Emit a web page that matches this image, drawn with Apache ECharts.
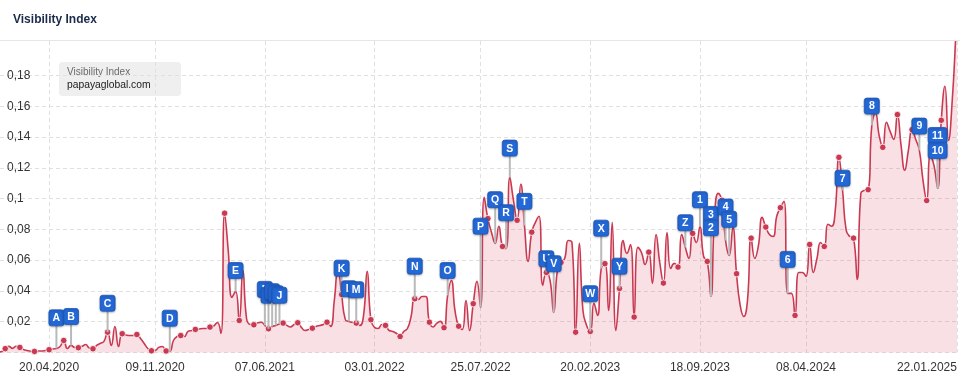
<!DOCTYPE html>
<html><head><meta charset="utf-8">
<script src="https://cdn.jsdelivr.net/npm/echarts@6/dist/echarts.min.js"></script>
<style>html,body{margin:0;padding:0;background:#fff}#c{width:960px;height:376px}</style>
</head><body><div id="c"></div>
<script>
// ---- data ----
const firstWeek = '2020-01-13';   // weekly points (Mondays) from here
const lastDate = '2025-01-22';    // final daily point
const axisStart = '2020-01-17';
const axisEnd = '2025-01-24';
const values = [
0.0003,0.0006,0.0025,0.0040,0.0027,0.0041,0.0033,0.0020,0.0013,0.0008,
0.0007,0.0010,0.0010,0.0013,0.0018,0.0023,0.0026,0.0039,0.0078,0.0026,
0.0046,0.0033,0.0031,0.0040,0.0052,0.0029,0.0024,0.0046,0.0059,0.0072,
0.0132,0.0046,0.0169,0.0039,0.0122,0.0114,0.0110,0.0110,0.0117,0.0091,
0.0059,0.0026,0.0011,0.0013,0.0033,0.0039,0.0010,0.0008,0.0078,0.0104,
0.0110,0.0104,0.0137,0.0143,0.0150,0.0153,0.0156,0.0156,0.0165,0.0172,
0.0195,0.0124,0.0905,0.0660,0.0358,0.0397,0.0208,0.0533,0.0221,0.0182,
0.0180,0.0192,0.0197,0.0176,0.0154,0.0169,0.0176,0.0185,0.0191,0.0176,
0.0166,0.0182,0.0193,0.0163,0.0143,0.0150,0.0158,0.0169,0.0176,0.0182,
0.0197,0.0169,0.0338,0.0546,0.0377,0.0215,0.0202,0.0195,0.0191,0.0176,
0.0241,0.0527,0.0213,0.0163,0.0156,0.0182,0.0176,0.0143,0.0137,0.0124,
0.0104,0.0137,0.0156,0.0234,0.0349,0.0345,0.0364,0.0364,0.0197,0.0166,
0.0189,0.0202,0.0161,0.0371,0.0468,0.0273,0.0171,0.0150,0.0338,0.0143,
0.0317,0.0462,0.0293,0.1008,0.0870,0.0780,0.0709,0.0820,0.0689,0.0676,
0.1138,0.0989,0.0859,0.1093,0.0826,0.0592,0.0782,0.0846,0.0885,0.0436,
0.0520,0.0470,0.0260,0.0530,0.0585,0.0611,0.0728,0.0715,0.0132,0.0709,
0.0273,0.0176,0.0137,0.0319,0.0241,0.0546,0.0577,0.0273,0.0846,0.0143,
0.0416,0.0728,0.0644,0.0702,0.0230,0.0683,0.0650,0.0572,0.0652,0.0449,
0.0767,0.0585,0.0451,0.0780,0.0546,0.0579,0.0555,0.0767,0.0683,0.0611,
0.0774,0.0715,0.0819,0.0624,0.0592,0.0364,0.0891,0.1034,0.0989,0.0728,
0.0631,0.0813,0.0512,0.0306,0.0234,0.0338,0.0743,0.0611,0.0696,0.0878,
0.0815,0.0767,0.0754,0.0885,0.0941,0.0982,0.0384,0.0384,0.0241,0.0520,
0.0520,0.0494,0.0702,0.0520,0.0611,0.0715,0.0689,0.0833,0.0820,0.0923,
0.1268,0.1054,0.0793,0.0754,0.0743,0.0475,0.1034,0.1054,0.1058,0.1476,
0.1556,0.1411,0.1333,0.1496,0.1437,0.1385,0.1546,0.1346,0.1184,0.1314,
0.1448,0.1385,0.1314,0.1119,0.0987,0.1281,0.1216,0.1067,0.1509,0.1730,
0.1379,0.1639,0.2080,0.2250
];
const tickLabels = ['20.04.2020','09.11.2020','07.06.2021','03.01.2022','25.07.2022','20.02.2023','18.09.2023','08.04.2024','22.01.2025'];
const yGridValues = [0,0.02,0.04,0.06,0.08,0.1,0.12,0.14,0.16,0.18];
const yLabelValues = [0.02,0.04,0.06,0.08,0.1,0.12,0.14,0.16,0.18];
const yMax = 0.2024;
const flagLabels = ['A','B','C','D','E','F','G','H','I','J','K','L','M','N','O','P','Q','R','S','T','U','V','W','X','Y','Z','1','3','2','4','5','6','7','8','9','11','10'];
const flagWeeks  = [16,20,30,47,65,73,74,75,76,77,94,96,98,114,123,132,136,139,140,144,150,152,162,165,170,188,192,195,195,199,200,216,231,239,252,257,257];
const flagLevels = [0.0225,0.0234,0.0320,0.0223,0.0533,0.0410,0.0372,0.0395,0.0382,0.0372,0.0548,0.0414,0.0408,0.0561,0.0533,0.0821,0.0993,0.0908,0.1328,0.0982,0.0609,0.0577,0.0382,0.0808,0.0561,0.0843,0.0993,0.0897,0.0811,0.0945,0.0865,0.0605,0.1133,0.1601,0.1471,0.1410,0.1313];

// ---- build ----
const DAY = 86400000;
function iso(s){const p=s.split('-').map(Number);return Date.UTC(p[0],p[1]-1,p[2]);}
function dmy(s){const p=s.split('.').map(Number);return Date.UTC(p[2],p[1]-1,p[0]);}
const t0 = iso(firstWeek);
const dates = values.map((v,i)=> i < values.length-1 ? t0 + i*7*DAY : iso(lastDate));
const lineData = dates.map((t,i)=>[t, values[i]]);
const flagData = flagWeeks.map((k,i)=>[dates[k], flagLevels[i], values[k]]);
const xTicks = tickLabels.map(dmy);
function fmtDate(v){const d=new Date(v);const p=n=>String(n).padStart(2,'0');return p(d.getUTCDate())+'.'+p(d.getUTCMonth()+1)+'.'+d.getUTCFullYear();}

const chart = echarts.init(document.getElementById('c'), null, {renderer:'canvas'});
chart.setOption({
  animation:false,
  backgroundColor:'#fff',
  title:{text:'Visibility Index', left:8, top:9, textStyle:{fontFamily:'Liberation Sans, Arial, sans-serif', fontSize:12, fontWeight:'bold', color:'#1a2a4a'}},
  graphic:[
    {type:'line', shape:{x1:0,y1:40.5,x2:960,y2:40.5}, style:{stroke:'#e6e6e6', lineWidth:1}, z:10},
    {type:'group', left:59, top:62, z:100, children:[
      {type:'rect', shape:{x:0,y:0,width:122,height:34,r:4}, style:{fill:'#efefef'}},
      {type:'text', x:8, y:10, style:{text:'Visibility Index', fill:'#6a6a6a', font:'10px "Liberation Sans", Arial, sans-serif', verticalAlign:'middle'}},
      {type:'text', x:8, y:23.5, style:{text:'papayaglobal.com', fill:'#1a1a1a', font:'10.3px "Liberation Sans", Arial, sans-serif', verticalAlign:'middle'}}
    ]}
  ],
  grid:{left:0, right:2, top:41, bottom:23.5, containLabel:false, outerBoundsMode:'none'},
  xAxis:{
    type:'value', min:iso(axisStart), max:iso(axisEnd),
    axisLine:{show:false},
    axisTick:{show:false, customValues:xTicks},
    axisLabel:{customValues:xTicks, formatter:fmtDate, color:'#333', fontSize:12, fontFamily:'Liberation Sans, Arial, sans-serif', margin:9, alignMaxLabel:'right', showMaxLabel:true, showMinLabel:true, hideOverlap:false},
    splitLine:{show:true, lineStyle:{color:'#e0e0e0', type:[4,3], width:1}}
  },
  yAxis:{
    type:'value', min:0, max:yMax,
    axisLine:{show:false},
    axisTick:{show:false, customValues:yGridValues},
    axisLabel:{inside:true, margin:7, customValues:yLabelValues, color:'#333', fontSize:12, fontFamily:'Liberation Sans, Arial, sans-serif', formatter:v=>String(v).replace('.',',')},
    splitLine:{show:true, lineStyle:{color:'#e0e0e0', type:[4,3], width:1}}
  },
  series:[
    {
      type:'line', data:lineData, smooth:0.5, clip:true,
      showSymbol:true, showAllSymbol:true, symbol:'circle',
      symbolSize:(v,p)=> (p.dataIndex % 4 === 2 && p.dataIndex < values.length-1) ? 6.5 : 0,
      lineStyle:{color:'#c93a52', width:1.6},
      itemStyle:{color:'#c93a52', borderColor:'#fff', borderWidth:0.8},
      areaStyle:{color:'rgba(214,70,96,0.24)'},
      z:2
    },
    {
      type:'custom', data:flagData, z:5, clip:false,
      renderItem:(params, api)=>{
        const t = api.value(0);
        const top = api.coord([t, api.value(1)]);
        const bot = api.coord([t, api.value(2)]);
        const lab = flagLabels[params.dataIndex];
        const w = lab.length > 1 ? 19 : 15;
        return {type:'group', children:[
          {type:'line', shape:{x1:top[0], y1:top[1], x2:bot[0], y2:bot[1]}, style:{stroke:'#b9b9b9', lineWidth:2}},
          {type:'rect', shape:{x:top[0]-w/2, y:top[1]-8, width:w, height:16, r:2.5}, style:{fill:'#2468d6', stroke:'#1d58b8', lineWidth:0.8, shadowBlur:2, shadowColor:'rgba(0,0,0,0.25)', shadowOffsetY:1}},
          {type:'text', x:top[0], y:top[1]+0.5, style:{text:lab, fill:'#fff', font:'bold 10.5px "Liberation Sans", Arial, sans-serif', align:'center', verticalAlign:'middle'}}
        ]};
      }
    }
  ]
});
</script></body></html>
